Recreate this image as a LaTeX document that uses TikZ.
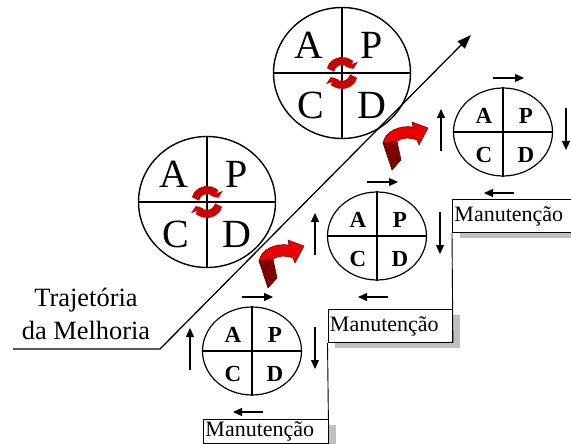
\documentclass[tikz,border=0pt]{standalone}
\usepackage{fontspec}
\setmainfont{Liberation Serif}
\usetikzlibrary{arrows.meta, shapes.geometric}

\begin{document}
\begin{tikzpicture}[
    x=1pt, y=-1pt,
    bigpdca/.style={draw, ellipse, line width=1.4pt, minimum width=137pt,
                    minimum height=131pt, inner sep=0pt},
    smallpdca/.style={draw, ellipse, line width=1.2pt, minimum width=99pt,
                      minimum height=88pt, inner sep=0pt},
    bigltr/.style={font=\fontsize{40}{40}\selectfont, inner sep=0pt},
    smallltr/.style={font=\fontsize{23}{23}\selectfont\bfseries, inner sep=0pt},
    arr/.style={-{Triangle[length=9pt, width=8pt]}, line width=1.2pt},
    mbox/.style={draw, line width=0.9pt, anchor=north west, minimum height=33pt,
                 text width=120.5pt, inner xsep=2pt, align=left,
                 font=\fontsize{22}{22}\selectfont},
    shade/.style={fill=black!25, draw=none},
    recyc/.style={line width=8pt, draw=red!78!black,
                  -{Triangle[length=5pt, width=13pt]}},
    curlarr/.style={fill=red!92!black, draw=red!40!black, line width=0.5pt},
    curltail/.style={fill=red!50!black, draw=red!30!black, line width=0.5pt},
  ]
    \clip (0,0) rectangle (571,444);
    \fill[white] (0,0) rectangle (571,444);

    % Big PDCA circles
    \node[bigpdca] (bigtop)  at (342,73)  {};
    \node[bigpdca] (bigleft) at (207,202) {};
    \foreach \c in {bigtop, bigleft} {
      \draw[line width=1.4pt] (\c.north) -- (\c.south) (\c.west) -- (\c.east);
      \draw[recyc] (\c.center) ++(15:12)  arc[start angle=15,  end angle=160, radius=12];
      \draw[recyc] (\c.center) ++(195:12) arc[start angle=195, end angle=340, radius=12];
      \node[bigltr] (\c-a) at ([shift={(-33,-28)}]\c.center) {A};
      \node[bigltr] (\c-p) at ([shift={(30,-28)}]\c.center)  {P};
      \node[bigltr] (\c-c) at ([shift={(-31,32)}]\c.center)  {C};
      \node[bigltr] (\c-d) at ([shift={(30,32)}]\c.center)   {D};
    }

    % Small PDCA circles with their turning arrows
    \foreach \n/\x/\y in {1/252/351, 2/377/236, 3/503/132} {
      \node[smallpdca] (cyc\n) at (\x,\y) {};
      \draw[line width=1.2pt] (cyc\n.north) -- (cyc\n.south) (cyc\n.west) -- (cyc\n.east);
      \node[smallltr] (cyc\n-a) at ([shift={(-19,-16)}]cyc\n.center) {A};
      \node[smallltr] (cyc\n-p) at ([shift={(23,-16)}]cyc\n.center)  {P};
      \node[smallltr] (cyc\n-c) at ([shift={(-19,23)}]cyc\n.center)  {C};
      \node[smallltr] (cyc\n-d) at ([shift={(23,23)}]cyc\n.center)   {D};
      \draw[arr] ([shift={(-10,-54)}]cyc\n.center) -- ++(31,0);
      \draw[arr] ([shift={(63,-24)}]cyc\n.center)  -- ++(0,42);
      \draw[arr] ([shift={(11,61)}]cyc\n.center)   -- ++(-30,0);
      \draw[arr] ([shift={(-62,19)}]cyc\n.center)  -- ++(0,-42);
    }

    % Red curled arrows between the steps
    \foreach \ox/\oy in {258/243, 382/125} {
      \begin{scope}[shift={(\ox,\oy)}]
        \draw[curltail] (1,18) -- (15,16) -- (19,35) -- (10,45) -- cycle;
        \draw[curlarr] (1,18) .. controls (3,6) and (18,0) .. (31,2) -- (30,-3)
          -- (46,3) -- (37,20) -- (35,15) .. controls (27,12) and (19,13) .. (15,16) -- cycle;
      \end{scope}
    }

    % Maintenance steps
    \fill[shade] (460,232) rectangle (575,238);
    \fill[shade] (335,342) rectangle (460,348);
    \fill[shade] (452,315) rectangle (460,348);
    \fill[shade] (328,425) rectangle (336,450);
    \node[mbox, minimum height=0pt, inner ysep=2pt] (manut1) at (203,419) {Manutenção};
    \node[mbox] (manut2) at (327.5,309) {Manutenção};
    \node[mbox] (manut3) at (452,199)   {Manutenção};
    \draw[line width=0.9pt] (manut1.north east) -- (manut2.south west);
    \draw[line width=0.9pt] (manut2.south east) -- (manut3.south west);

    % Improvement path
    \coordinate (trajstart) at (13,349);
    \coordinate (trajbend)  at (160,349);
    \coordinate (trajend)   at (471,35);
    \draw[line width=1.3pt, -{Triangle[length=14pt, width=10pt]}]
      (trajstart) -- (trajbend) -- (trajend);
    \node[align=center, font=\fontsize{26.4}{33}\selectfont] (trajlbl) at (86,314)
      {Trajetória\\da Melhoria};
  \end{tikzpicture}
\end{document}
